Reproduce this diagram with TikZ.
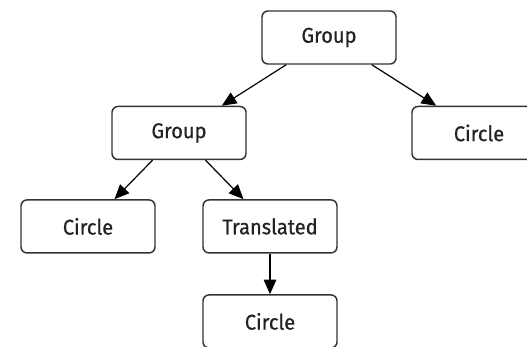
\documentclass[tikz,border=0pt]{standalone}
\usepackage{fontspec}
\setmainfont{Fira Sans}[FakeStretch=0.94, FakeBold=0.6]
\usetikzlibrary{positioning,arrows.meta}

\definecolor{boxgray}{HTML}{333333}
\definecolor{txtgray}{HTML}{222222}

\tikzset{
  obj/.style={draw=boxgray, line width=1.1pt, rounded corners=4.5pt,
    minimum width=100.5pt, minimum height=39.75pt, inner sep=0pt,
    font=\fontsize{16}{19}\selectfont, text=txtgray},
  link/.style={-{Triangle[length=11pt,width=9.5pt]}, line width=0.9pt, draw=black},
}

\begin{document}
\begin{tikzpicture}[x=0.75pt, y=-0.75pt, on grid]
\fill[white] (0,0) rectangle (527,346);
\useasboundingbox (0,0) rectangle (527,346);
\clip (0,0) rectangle (527,346);
\node[obj] (root) at (329,37.5) {Group};
\node[obj, below left=71.6pt and 112.5pt of root] (grp) {Group};
\node[obj, below right=71.6pt and 112.5pt of root] (circR) {Circle};
\node[obj, below left=70.1pt and 68.25pt of grp] (circL) {Circle};
\node[obj, below right=70.1pt and 68.25pt of grp] (trans) {Translated};
\node[obj, below=71.25pt of trans] (circB) {Circle};
\draw[link] (root) -- (grp);
\draw[link] (root) -- (circR);
\draw[link] (grp) -- (circL);
\draw[link] (grp) -- (trans);
\draw[link] (trans) -- (circB);
\end{tikzpicture}
\end{document}
